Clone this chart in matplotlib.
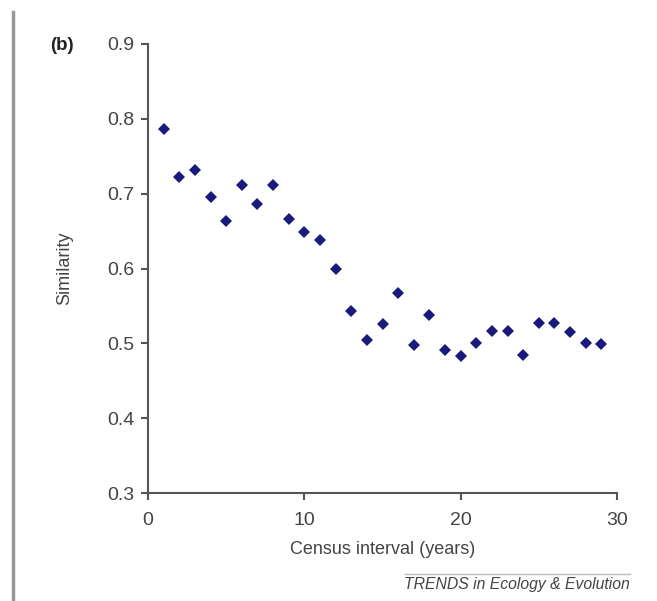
"""
Similarity against census interval, panel (b)
"""
import matplotlib
matplotlib.use("Agg")
import matplotlib.pyplot as plt
from matplotlib.lines import Line2D

plt.rcParams['font.family'] = ['Liberation Sans', 'DejaVu Sans']

# census interval (years) and similarity
interval = [1, 2, 3, 4, 5, 6, 7, 8, 9, 10, 11, 12, 13, 14, 15,
            16, 17, 18, 19, 20, 21, 22, 23, 24, 25, 26, 27, 28, 29]
similarity = [0.787, 0.722, 0.731, 0.695, 0.663, 0.711, 0.686, 0.711, 0.666, 0.649,
              0.638, 0.600, 0.543, 0.504, 0.526, 0.567, 0.498, 0.538, 0.491, 0.483,
              0.500, 0.516, 0.516, 0.485, 0.527, 0.527, 0.515, 0.500, 0.499]

x_ticks = [0, 10, 20, 30]
y_ticks = [0.3, 0.4, 0.5, 0.6, 0.7, 0.8, 0.9]

W, H = 657, 601
fig = plt.figure(figsize=(W / 100, H / 100), dpi=100)
ax = fig.add_axes([148 / W, 108 / H, 469 / W, 449 / H])

ax.plot(interval, similarity, 'D', color='#1a1a7e', markersize=6.5, markeredgewidth=0)

ax.set_xlim(0, 30)
ax.set_ylim(0.3, 0.9)
ax.set_xticks(x_ticks)
ax.set_yticks(y_ticks)
ax.set_yticklabels([f"{v:.1f}" for v in y_ticks])

for side in ("top", "right"):
    ax.spines[side].set_visible(False)
for side in ("left", "bottom"):
    ax.spines[side].set_color('#555555')
    ax.spines[side].set_linewidth(1.5)
ax.tick_params(direction='out', length=5, width=1.5, color='#555555',
               labelsize=14, labelcolor='#444444')
ax.tick_params(axis='x', pad=9)
ax.tick_params(axis='y', pad=5)

ax.set_xlabel('Census interval (years)', fontsize=13, color='#444444', labelpad=8)
ax.set_ylabel('Similarity', fontsize=13, color='#444444', labelpad=24)

fig.text(50 / W, 1 - 46 / H, '(b)', fontsize=13.5, fontweight='bold',
         color='#222222', ha='left', va='center')

# journal footer
fig.add_artist(Line2D([405 / W, 630 / W], [1 - 574 / H, 1 - 574 / H],
                      color='#bbbbbb', linewidth=1))
fig.text(630 / W, 1 - 584 / H, 'TRENDS in Ecology & Evolution', fontsize=11.3,
         style='italic', color='#444444', ha='right', va='center')

# grey frame line on the left
fig.add_artist(Line2D([13 / W, 13 / W], [0, 1 - 12 / H],
                      color='#999999', linewidth=2.5))

fig.savefig("out.png", dpi=100)
